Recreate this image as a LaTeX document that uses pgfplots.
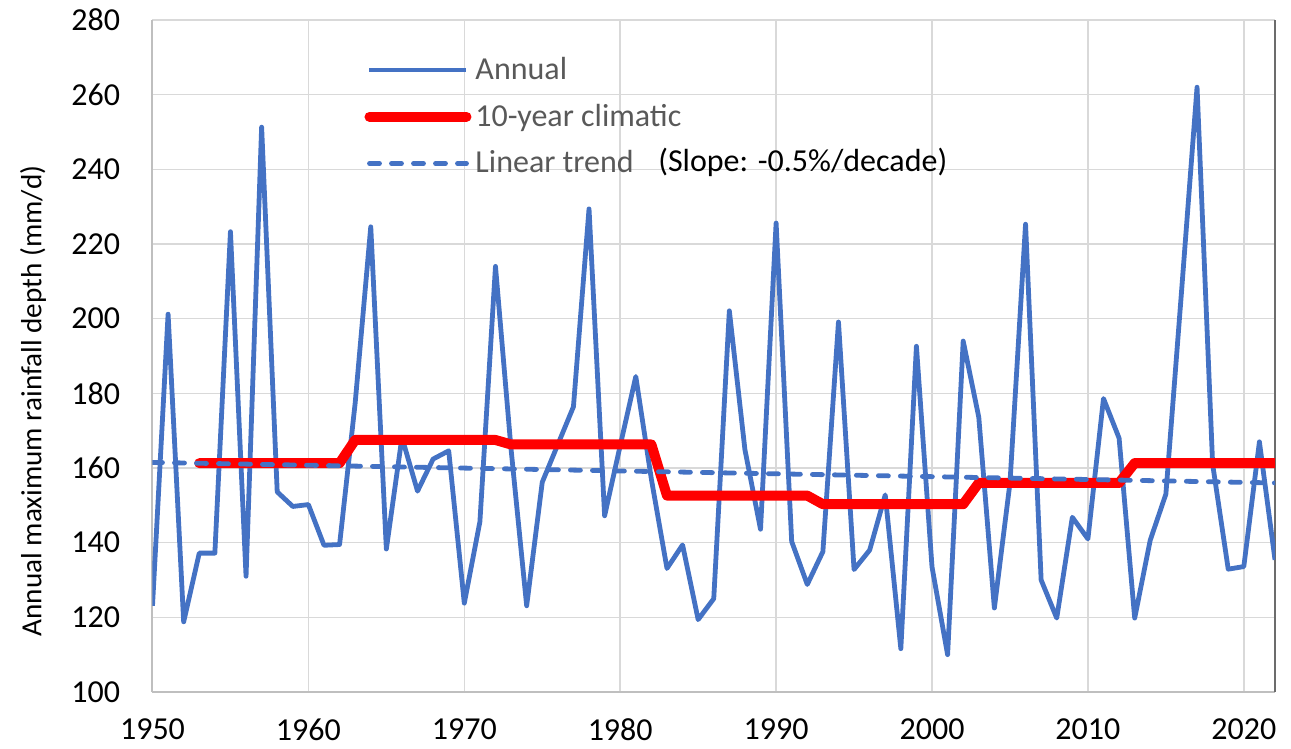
\documentclass[border=0pt]{standalone}
\usepackage{pgfplots}
\pgfplotsset{compat=1.18}
\usepackage{fontspec}
\setmainfont{Carlito}
\definecolor{annual}{HTML}{4472C4}
\definecolor{gridc}{HTML}{D9D9D9}
\definecolor{axisc}{HTML}{BFBFBF}
\definecolor{legtext}{HTML}{595959}
\begin{document}
\begin{tikzpicture}
\path[use as bounding box] (-76.25pt,-28.5pt) rectangle (569.25pt,346pt);
\begin{axis}[
 at={(0,0)}, anchor=south west,
 scale only axis, width=561.25pt, height=336pt,
 xmin=1950, xmax=2022, ymin=100, ymax=280,
 xtick={1950,1960,...,2020}, ytick={100,120,...,280},
 extra x ticks={2022}, extra x tick labels={},
 extra x tick style={grid style={color=gray!85!black, line width=1pt}},
 grid=major, grid style={gridc, line width=0.75pt},
 axis x line*=bottom, axis y line*=left,
 axis line style={axisc, line width=1pt},
 major tick length=0pt,
 /pgf/number format/1000 sep={},
 /pgf/number format/assume math mode=true,
 tick label style={font=\fontsize{16}{19}\selectfont},
 xticklabel style={inner sep=0pt, yshift=-13pt},
 yticklabel style={inner sep=0pt, xshift=-16pt},
 ylabel={Annual maximum rainfall depth (mm/d)},
 ylabel style={font=\fontsize{14.6}{17}\selectfont, at={(axis description cs:-0.1065,0.433)}, anchor=center},
 legend style={at={(axis description cs:0.1885,0.951)}, anchor=north west, draw=none, fill=none, inner sep=0pt,
   row sep=6.75pt, column sep=0pt, font=\fontsize{16}{19}\selectfont, text=legtext},
 legend cell align=left,
 legend image code/.code={\draw[#1] (0pt,0pt) -- (48.5pt,0pt);},
]
\addplot[annual, line width=2.4pt, line join=round] coordinates {
(1950,123.1)(1951,201.2)(1952,118.8)(1953,137.2)(1954,137.2)(1955,223.3)(1956,131.0)(1957,251.3)(1958,153.6)(1959,149.7)
(1960,150.2)(1961,139.3)(1962,139.5)(1963,177.4)(1964,224.6)(1965,138.3)(1966,168.2)(1967,153.8)(1968,162.4)(1969,164.6)
(1970,123.8)(1971,145.6)(1972,214.0)(1973,165.0)(1974,123.1)(1975,156.2)(1976,166.3)(1977,176.4)(1978,229.4)(1979,147.2)
(1980,166.0)(1981,184.5)(1982,157.0)(1983,133.1)(1984,139.4)(1985,119.4)(1986,125.0)(1987,202.1)(1988,164.9)(1989,143.6)
(1990,225.6)(1991,140.3)(1992,128.8)(1993,137.6)(1994,199.1)(1995,132.8)(1996,138.0)(1997,152.8)(1998,111.6)(1999,192.6)
(2000,133.5)(2001,110.0)(2002,194.0)(2003,173.6)(2004,122.5)(2005,156.0)(2006,225.3)(2007,130.0)(2008,119.8)(2009,146.8)
(2010,141.0)(2011,178.6)(2012,168.0)(2013,119.8)(2014,140.7)(2015,153.0)(2016,207.0)(2017,262.0)(2018,161.0)(2019,132.9)
(2020,133.6)(2021,167.0)(2022,135.4)};
\addlegendentry{Annual}
\addplot[red, line width=5pt, line join=round, line cap=round] coordinates {
(1953,161.3)(1962,161.3)(1963,167.5)(1972,167.5)(1973,166.3)(1982,166.3)(1983,152.6)(1992,152.6)
(1993,150.3)(2002,150.3)(2003,156.0)(2012,156.0)(2013,161.3)(2022,161.3)};
\addlegendentry{10-year climatic}
\addplot[annual, line width=2.4pt, dash pattern=on 5pt off 6pt, line cap=round] coordinates {(1950,161.5)(2022,156.0)};
\addlegendentry{Linear trend}
\node[anchor=west, inner sep=0pt, font=\fontsize{16}{19}\selectfont] at (axis description cs:0.4503,0.7887) {(Slope: -0.5\%/decade)};
\end{axis}
\end{tikzpicture}
\end{document}
